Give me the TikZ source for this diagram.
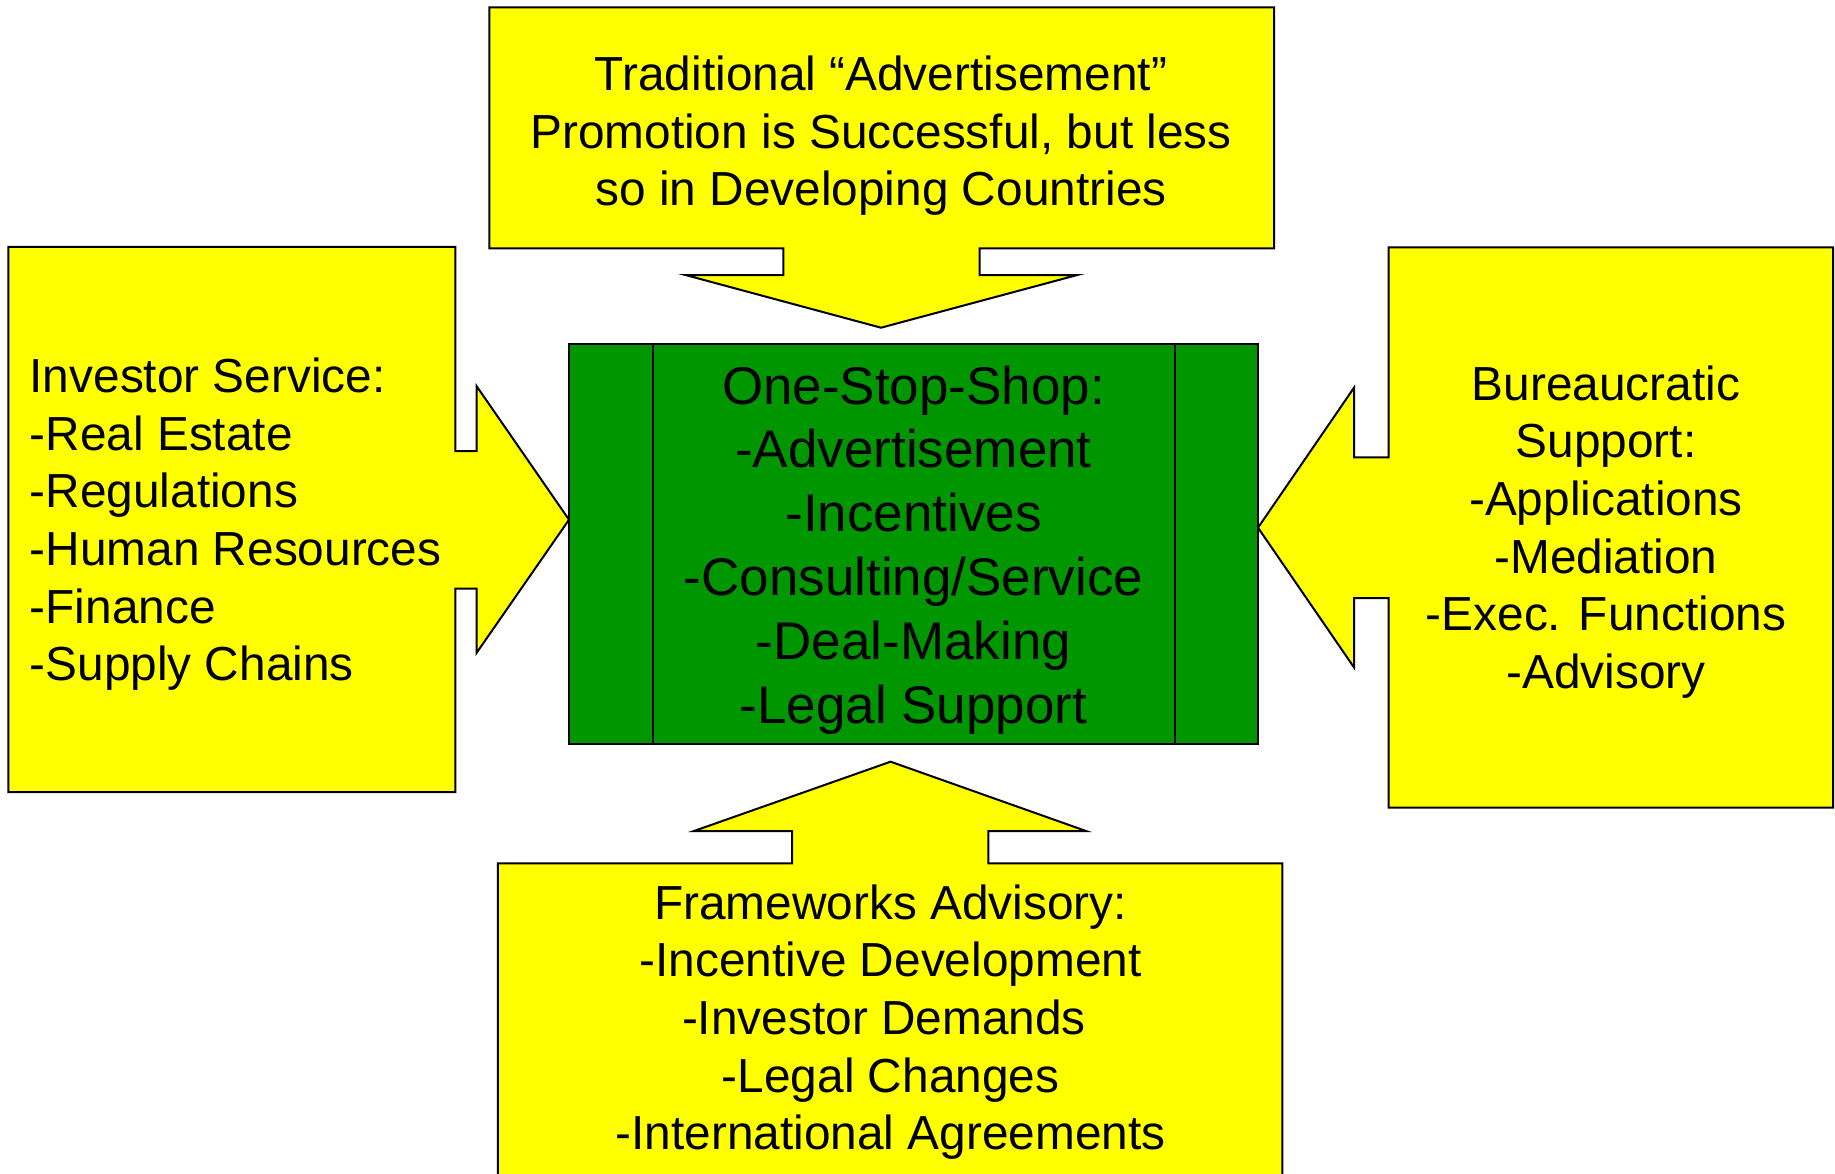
\documentclass[tikz,border=0pt]{standalone}
\usepackage{fontspec}
\setmainfont{Liberation Sans}
\definecolor{boxyellow}{RGB}{255,255,0}
\definecolor{shopgreen}{RGB}{0,150,0}
\tikzset{
  callout/.style={draw=black, line width=2pt, fill=boxyellow, line join=miter},
  shopbox/.style={draw=black, line width=2pt, fill=shopgreen},
  yellowtext/.style={inner sep=0pt, font=\fontsize{47.8}{57.6}\selectfont},
  greentext/.style={inner sep=0pt, font=\fontsize{53}{63.8}\selectfont}
}
\begin{document}
\begin{tikzpicture}[x=1pt,y=-1pt]
\useasboundingbox (0,0) rectangle (1835,1174);
\clip (0,0) rectangle (1835,1174);
\fill[white] (0,0) rectangle (1835,1174);

% top callout: box with a downward arrow
\draw[callout] (489.4,7.3) -- (1274,7.3) -- (1274,248.3) -- (979.5,248.3)
  -- (979.5,275) -- (1077.3,275) -- (881,327.7) -- (685.5,275)
  -- (783.3,275) -- (783.3,248.3) -- (489.4,248.3) -- cycle;

% left callout: box with a rightward arrow
\draw[callout] (8.4,247) -- (455.4,247) -- (455.4,451) -- (476.5,451)
  -- (476.5,386) -- (569,519.7) -- (476.5,653) -- (476.5,588.6)
  -- (455.4,588.6) -- (455.4,792) -- (8.4,792) -- cycle;

% right callout: box with a leftward arrow
\draw[callout] (1833,247.5) -- (1388.5,247.5) -- (1388.5,457.3) -- (1354,457.3)
  -- (1354,387.7) -- (1258,527.7) -- (1354,667.4) -- (1354,598.2)
  -- (1388.5,598.2) -- (1388.5,807.7) -- (1833,807.7) -- cycle;

% bottom callout: box with an upward arrow, running off the page
\draw[callout] (497.8,1190) -- (497.8,863.3) -- (792.2,863.3) -- (792.2,831)
  -- (694,831) -- (890.6,761.7) -- (1086,831) -- (988.4,831)
  -- (988.4,863.3) -- (1282.3,863.3) -- (1282.3,1190);

% central predefined-process box
\draw[shopbox] (569,343.7) rectangle (1258,744.3);
\draw[line width=2pt] (652.5,343.7) -- (652.5,744.3);
\draw[line width=2pt] (1174.5,343.7) -- (1174.5,744.3);

% texts
\node[yellowtext, anchor=base] (toptext) at (881,90.7)
  {\begin{tabular}[t]{@{}c@{}}Traditional “Advertisement”\\Promotion is Successful, but less\\so in Developing Countries\end{tabular}};

\node[yellowtext, anchor=base west] (lefttext) at (29.5,392.6)
  {\begin{tabular}[t]{@{}l@{}}Investor Service:\\-Real Estate\\-Regulations\\-Human Resources\\-Finance\\-Supply Chains\end{tabular}};

\node[yellowtext, anchor=base] (righttext) at (1606,400.3)
  {\begin{tabular}[t]{@{}c@{}}Bureaucratic\\Support:\\-Applications\\-Mediation\\-Exec. Functions\\-Advisory\end{tabular}};

\node[yellowtext, anchor=base] (bottomtext) at (890.6,919.3)
  {\begin{tabular}[t]{@{}c@{}}Frameworks Advisory:\\-Incentive Development\\-Investor Demands\kern13.3pt\\-Legal Changes\\-International Agreements\end{tabular}};

\node[greentext, anchor=base] (shoptext) at (913.5,404)
  {\begin{tabular}[t]{@{}c@{}}One-Stop-Shop:\\-Advertisement\\-Incentives\\-Consulting/Service\\-Deal-Making\\-Legal Support\end{tabular}};
\end{tikzpicture}
\end{document}
